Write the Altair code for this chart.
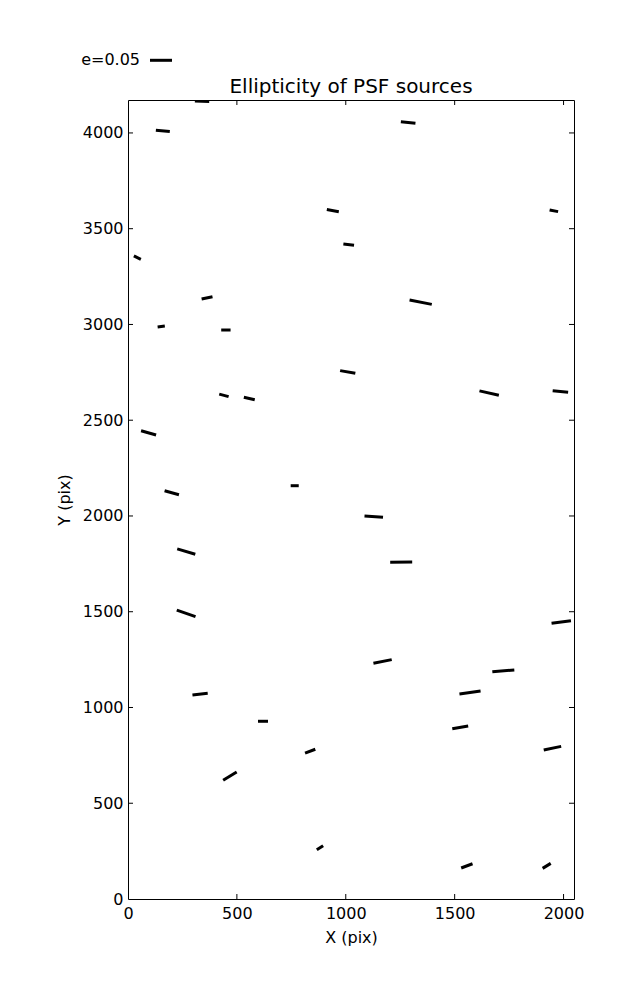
import altair as alt
import pandas as pd

# ---- data (detector pixel units) ----
x_start = [307, 128, 913, 989, 27, 338, 136, 428, 1253, 1936, 1293, 974,
           419, 532, 60, 168, 747, 226, 224, 1614, 1950, 1086, 1204, 1945,
           296, 597, 813, 437, 867, 1127, 1673, 1522, 1489, 1909, 1530, 1904]
y_start = [4167, 4014, 3600, 3420, 3358, 3133, 2987, 2971, 4059, 3598, 3128, 2759,
           2636, 2620, 2445, 2132, 2158, 1828, 1508, 2653, 2654, 2000, 1758, 1440,
           1065, 928, 762, 620, 257, 1231, 1187, 1070, 889, 778, 162, 160]
x_end = [373, 192, 968, 1038, 59, 388, 169, 471, 1320, 1975, 1395, 1044,
         462, 582, 129, 234, 784, 309, 310, 1703, 2021, 1171, 1305, 2034,
         366, 643, 860, 499, 896, 1211, 1774, 1619, 1562, 1989, 1582, 1941]
y_end = [4164, 4007, 3589, 3414, 3340, 3145, 2992, 2971, 4051, 3589, 3105, 2745,
         2623, 2607, 2423, 2111, 2158, 1800, 1474, 2630, 2646, 1993, 1760, 1453,
         1074, 928, 782, 663, 278, 1250, 1196, 1086, 903, 797, 184, 186]

x_ticks = [0, 500, 1000, 1500, 2000]
y_ticks = [0, 500, 1000, 1500, 2000, 2500, 3000, 3500, 4000]
x_domain = [0, 2048]
y_domain = [0, 4172]

title_text = "Ellipticity of PSF sources"
legend_label = "e=0.05"

W, H = 446, 799
FONT = "DejaVu Sans"
TL = 5  # inward tick length

seg = pd.DataFrame({"x1": x_start, "y1": y_start, "x2": x_end, "y2": y_end})
xt = pd.DataFrame({"x1": x_ticks[1:]})
yt = pd.DataFrame({"y1": y_ticks[1:]})

xscale = alt.Scale(domain=x_domain, nice=False, zero=False)
yscale = alt.Scale(domain=y_domain, nice=False, zero=False)

ax_x = alt.Axis(
    values=x_ticks, format="d", title="X (pix)", ticks=False, tickSize=0,
    domain=False, grid=False, labelFont=FONT, labelFontSize=16,
    labelColor="black", labelPadding=6, labelFlush=False, labelOverlap=False,
    titleFont=FONT, titleFontSize=16, titleFontWeight="normal",
    titleColor="black", titleBaseline="alphabetic", titleY=43)
ax_y = alt.Axis(
    values=y_ticks, format="d", title="Y (pix)", ticks=False, tickSize=0,
    domain=False, grid=False, labelFont=FONT, labelFontSize=16,
    labelColor="black", labelPadding=5, labelFlush=False, labelOverlap=False,
    titleFont=FONT, titleFontSize=16, titleFontWeight="normal",
    titleColor="black", titleBaseline="alphabetic", titleAngle=270,
    titleX=-59, titleY=H / 2, titleAlign="center")

X = alt.X("x1:Q", scale=xscale, axis=ax_x, title="X (pix)")
Y = alt.Y("y1:Q", scale=yscale, axis=ax_y, title="Y (pix)")

segments = alt.Chart(seg).mark_rule(
    color="black", strokeWidth=3, strokeCap="butt", clip=True
).encode(x=X, y=Y, x2="x2:Q", y2="y2:Q")

tick_b = alt.Chart(xt).mark_rule(color="black", strokeWidth=1).encode(
    x=X, y=alt.value(H), y2=alt.value(H - TL))
tick_t = alt.Chart(xt).mark_rule(color="black", strokeWidth=1).encode(
    x=X, y=alt.value(0), y2=alt.value(TL))
tick_l = alt.Chart(yt).mark_rule(color="black", strokeWidth=1).encode(
    y=Y, x=alt.value(0), x2=alt.value(TL))
tick_r = alt.Chart(yt).mark_rule(color="black", strokeWidth=1).encode(
    y=Y, x=alt.value(W), x2=alt.value(W - TL))

title = alt.Chart(pd.DataFrame({"t": [title_text]})).mark_text(
    font=FONT, fontSize=20, color="black", align="center", baseline="alphabetic"
).encode(x=alt.value(W / 2), y=alt.value(-6.7), text="t:N")

leg_text = alt.Chart(pd.DataFrame({"t": [legend_label]})).mark_text(
    font=FONT, fontSize=16, color="black", align="right", baseline="alphabetic"
).encode(x=alt.value(12), y=alt.value(-35), text="t:N")

leg_key = alt.Chart(pd.DataFrame({"t": [legend_label]})).mark_rule(
    color="black", strokeWidth=3, strokeCap="butt"
).encode(x=alt.value(22), x2=alt.value(44), y=alt.value(-39.7))

chart = alt.layer(
    segments, tick_b, tick_t, tick_l, tick_r, title, leg_text, leg_key
).properties(
    width=W, height=H,
    autosize=alt.AutoSizeParams(type="none"),
    padding={"left": 120, "top": 92, "right": 50, "bottom": 70},
    background="white",
).configure_view(stroke="black", strokeWidth=1)

chart.save("out.html", embed_options={"renderer": "svg", "actions": False})
